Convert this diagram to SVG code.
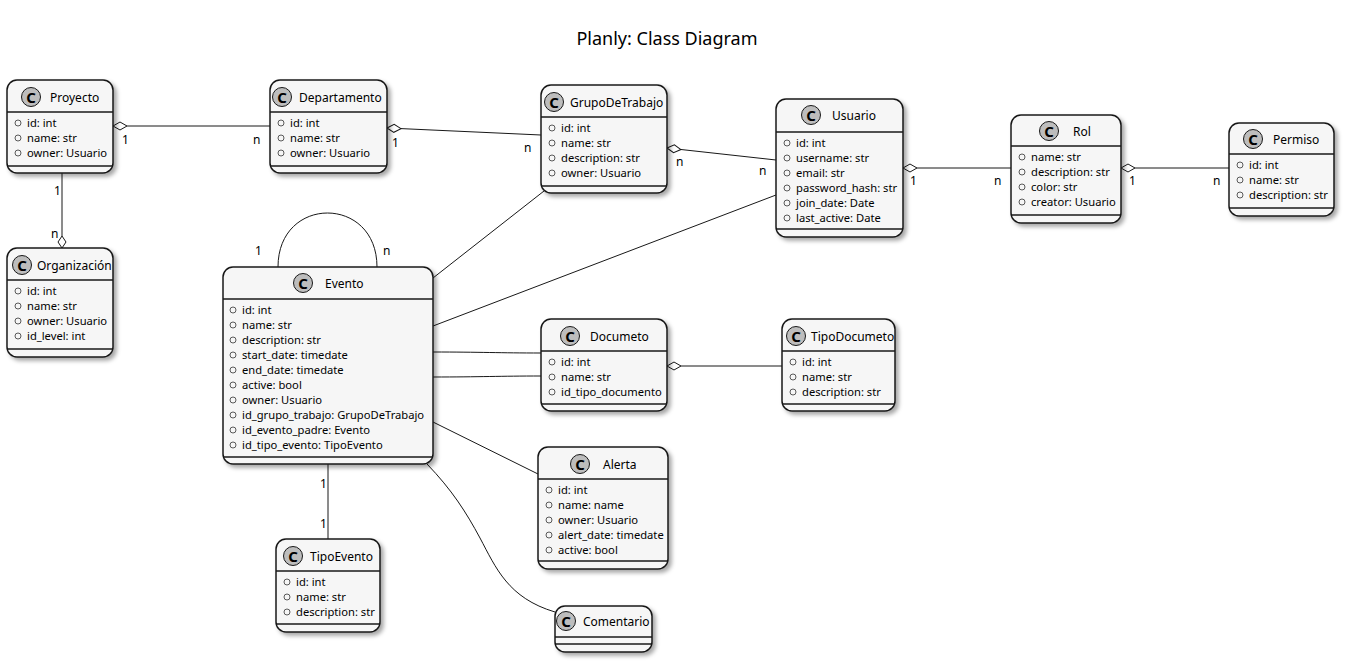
<svg xmlns="http://www.w3.org/2000/svg" width="1347" height="666" viewBox="0 0 1347 666">
<defs>
<filter id="sh" x="-10%" y="-10%" width="130%" height="130%">
<feDropShadow dx="3" dy="3" stdDeviation="2" flood-color="#000" flood-opacity="0.35"/>
</filter>
<style>
.box{fill:#F6F6F6;stroke:#181818;stroke-width:1.5;filter:url(#sh)}
.div{stroke:#181818;stroke-width:1.5}
.ic{fill:#BDBDBD;stroke:#181818;stroke-width:1}
.cl{font-family:"Noto Sans","Open Sans",sans-serif;font-size:15px;font-weight:bold;fill:#000;text-anchor:middle}
.nm{font-family:"Noto Sans","Open Sans",sans-serif;font-size:12px;fill:#000}
.at{font-family:"Noto Sans","Open Sans",sans-serif;font-size:11.2px;fill:#000}
.vi{fill:none;stroke:#333;stroke-width:0.8}
.ln{fill:none;stroke:#181818;stroke-width:1}
.dm{fill:#fff;stroke:#181818;stroke-width:1}
.lb{font-family:"Noto Sans","Open Sans",sans-serif;font-size:12px;fill:#000}
.ti{font-family:"Noto Sans","Open Sans",sans-serif;font-size:18px;fill:#000;text-anchor:middle}
</style>
</defs>
<rect width="1347" height="666" fill="#fff"/>
<text class="ti" x="667" y="45">Planly: Class Diagram</text>

<g id="connectors">
<path class="ln" d="M127,126 L270,126"/>
<polygon class="dm" points="113,126 120,122 127,126 120,130"/>
<text class="lb" x="122" y="144">1</text>
<text class="lb" x="253" y="144">n</text>
<path class="ln" d="M62,173 L62,236"/>
<polygon class="dm" points="62,248 58,242 62,236 66,242"/>
<text class="lb" x="54" y="195">1</text>
<text class="lb" x="51" y="238">n</text>
<path class="ln" d="M401,128.6 L541,135"/>
<polygon class="dm" points="387,128 394,124 401,128 394,132" transform="rotate(2.6 387 128)"/>
<text class="lb" x="392" y="147">1</text>
<text class="lb" x="524" y="152">n</text>
<path class="ln" d="M681,149.5 L776,160"/>
<polygon class="dm" points="667,148 674,144 681,148 674,152" transform="rotate(6.3 667 148)"/>
<text class="lb" x="676" y="166">n</text>
<text class="lb" x="759" y="175">n</text>
<path class="ln" d="M917,168 L1011,168"/>
<polygon class="dm" points="903,168 910,164 917,168 910,172"/>
<text class="lb" x="910" y="185">1</text>
<text class="lb" x="994" y="185">n</text>
<path class="ln" d="M1135,168 L1229,168"/>
<polygon class="dm" points="1121,168 1128,164 1135,168 1128,172"/>
<text class="lb" x="1129" y="185">1</text>
<text class="lb" x="1213" y="185">n</text>
<path class="ln" d="M278,267 C278,195 377,195 377,267"/>
<text class="lb" x="255" y="255">1</text>
<text class="lb" x="383" y="255">n</text>
<path class="ln" d="M433,278 L544,191"/>
<path class="ln" d="M433,326 L776,195"/>
<path class="ln" d="M433,352 C480,352 500,353 541,353"/>
<path class="ln" d="M433,377 C480,377 500,376 541,376"/>
<path class="ln" d="M681,366 L782,366"/>
<polygon class="dm" points="667,366 674,362 681,366 674,370"/>
<path class="ln" d="M433,422 L538,474"/>
<path class="ln" d="M328,464 L328,539"/>
<text class="lb" x="320" y="488">1</text>
<text class="lb" x="320" y="528">1</text>
<path class="ln" d="M427,464 C452,490 466,512 480,538 C496,568 508,598 555,612"/>
</g>

<g id="Proyecto">
<rect class="box" x="7" y="80" width="106" height="93" rx="10"/>
<line class="div" x1="7" y1="112" x2="113" y2="112"/>
<line class="div" x1="7" y1="166" x2="113" y2="166"/>
<circle class="ic" cx="31" cy="97" r="9.5"/><text class="cl" x="31" y="102.5">C</text>
<text class="nm" x="50" y="101.5">Proyecto</text>
<circle class="vi" cx="18" cy="123" r="3"/><text class="at" x="27" y="127">id: int</text>
<circle class="vi" cx="18" cy="138" r="3"/><text class="at" x="27" y="142">name: str</text>
<circle class="vi" cx="18" cy="153" r="3"/><text class="at" x="27" y="157">owner: Usuario</text>
</g>

<g id="Departamento">
<rect class="box" x="270" y="80" width="117" height="93" rx="10"/>
<line class="div" x1="270" y1="112" x2="387" y2="112"/>
<line class="div" x1="270" y1="166" x2="387" y2="166"/>
<circle class="ic" cx="282" cy="97" r="9.5"/><text class="cl" x="282" y="102.5">C</text>
<text class="nm" x="299" y="101.5">Departamento</text>
<circle class="vi" cx="281" cy="123" r="3"/><text class="at" x="290" y="127">id: int</text>
<circle class="vi" cx="281" cy="138" r="3"/><text class="at" x="290" y="142">name: str</text>
<circle class="vi" cx="281" cy="153" r="3"/><text class="at" x="290" y="157">owner: Usuario</text>
</g>

<g id="Organizacion">
<rect class="box" x="7" y="248" width="106" height="109" rx="10"/>
<line class="div" x1="7" y1="280" x2="113" y2="280"/>
<line class="div" x1="7" y1="349" x2="113" y2="349"/>
<circle class="ic" cx="22" cy="265" r="9.5"/><text class="cl" x="22" y="270.5">C</text>
<text class="nm" x="37" y="269.5">Organización</text>
<circle class="vi" cx="18" cy="291" r="3"/><text class="at" x="27" y="295">id: int</text>
<circle class="vi" cx="18" cy="306" r="3"/><text class="at" x="27" y="310">name: str</text>
<circle class="vi" cx="18" cy="321" r="3"/><text class="at" x="27" y="325">owner: Usuario</text>
<circle class="vi" cx="18" cy="336" r="3"/><text class="at" x="27" y="340">id_level: int</text>
</g>

<g id="Evento">
<rect class="box" x="223" y="267" width="210" height="197" rx="10"/>
<line class="div" x1="223" y1="299" x2="433" y2="299"/>
<line class="div" x1="223" y1="457" x2="433" y2="457"/>
<circle class="ic" cx="303" cy="283" r="9.5"/><text class="cl" x="303" y="288.5">C</text>
<text class="nm" x="325" y="287.5">Evento</text>
<circle class="vi" cx="233" cy="310" r="3"/><text class="at" x="242" y="314">id: int</text>
<circle class="vi" cx="233" cy="325" r="3"/><text class="at" x="242" y="329">name: str</text>
<circle class="vi" cx="233" cy="340" r="3"/><text class="at" x="242" y="344">description: str</text>
<circle class="vi" cx="233" cy="355" r="3"/><text class="at" x="242" y="359">start_date: timedate</text>
<circle class="vi" cx="233" cy="370" r="3"/><text class="at" x="242" y="374">end_date: timedate</text>
<circle class="vi" cx="233" cy="385" r="3"/><text class="at" x="242" y="389">active: bool</text>
<circle class="vi" cx="233" cy="400" r="3"/><text class="at" x="242" y="404">owner: Usuario</text>
<circle class="vi" cx="233" cy="415" r="3"/><text class="at" x="242" y="419">id_grupo_trabajo: GrupoDeTrabajo</text>
<circle class="vi" cx="233" cy="430" r="3"/><text class="at" x="242" y="434">id_evento_padre: Evento</text>
<circle class="vi" cx="233" cy="445" r="3"/><text class="at" x="242" y="449">id_tipo_evento: TipoEvento</text>
</g>

<g id="GrupoDeTrabajo">
<rect class="box" x="541" y="85" width="126" height="108" rx="10"/>
<line class="div" x1="541" y1="117" x2="667" y2="117"/>
<line class="div" x1="541" y1="186" x2="667" y2="186"/>
<circle class="ic" cx="554" cy="102" r="9.5"/><text class="cl" x="554" y="107.5">C</text>
<text class="nm" x="570" y="106.5">GrupoDeTrabajo</text>
<circle class="vi" cx="552" cy="128" r="3"/><text class="at" x="561" y="132">id: int</text>
<circle class="vi" cx="552" cy="143" r="3"/><text class="at" x="561" y="147">name: str</text>
<circle class="vi" cx="552" cy="158" r="3"/><text class="at" x="561" y="162">description: str</text>
<circle class="vi" cx="552" cy="173" r="3"/><text class="at" x="561" y="177">owner: Usuario</text>
</g>

<g id="Usuario">
<rect class="box" x="776" y="99" width="127" height="138" rx="10"/>
<line class="div" x1="776" y1="132" x2="903" y2="132"/>
<line class="div" x1="776" y1="229" x2="903" y2="229"/>
<circle class="ic" cx="811" cy="115" r="9.5"/><text class="cl" x="811" y="120.5">C</text>
<text class="nm" x="832" y="119.5">Usuario</text>
<circle class="vi" cx="787" cy="143" r="3"/><text class="at" x="796" y="147">id: int</text>
<circle class="vi" cx="787" cy="158" r="3"/><text class="at" x="796" y="162">username: str</text>
<circle class="vi" cx="787" cy="173" r="3"/><text class="at" x="796" y="177">email: str</text>
<circle class="vi" cx="787" cy="188" r="3"/><text class="at" x="796" y="192">password_hash: str</text>
<circle class="vi" cx="787" cy="203" r="3"/><text class="at" x="796" y="207">join_date: Date</text>
<circle class="vi" cx="787" cy="218" r="3"/><text class="at" x="796" y="222">last_active: Date</text>
</g>

<g id="Rol">
<rect class="box" x="1011" y="115" width="110" height="108" rx="10"/>
<line class="div" x1="1011" y1="146" x2="1121" y2="146"/>
<line class="div" x1="1011" y1="215" x2="1121" y2="215"/>
<circle class="ic" cx="1049" cy="131" r="9.5"/><text class="cl" x="1049" y="136.5">C</text>
<text class="nm" x="1073" y="135.5">Rol</text>
<circle class="vi" cx="1022" cy="157" r="3"/><text class="at" x="1031" y="161">name: str</text>
<circle class="vi" cx="1022" cy="172" r="3"/><text class="at" x="1031" y="176">description: str</text>
<circle class="vi" cx="1022" cy="187" r="3"/><text class="at" x="1031" y="191">color: str</text>
<circle class="vi" cx="1022" cy="202" r="3"/><text class="at" x="1031" y="206">creator: Usuario</text>
</g>

<g id="Permiso">
<rect class="box" x="1229" y="123" width="105" height="93" rx="10"/>
<line class="div" x1="1229" y1="154" x2="1334" y2="154"/>
<line class="div" x1="1229" y1="208" x2="1334" y2="208"/>
<circle class="ic" cx="1253" cy="139" r="9.5"/><text class="cl" x="1253" y="144.5">C</text>
<text class="nm" x="1273" y="143.5">Permiso</text>
<circle class="vi" cx="1240" cy="165" r="3"/><text class="at" x="1249" y="169">id: int</text>
<circle class="vi" cx="1240" cy="180" r="3"/><text class="at" x="1249" y="184">name: str</text>
<circle class="vi" cx="1240" cy="195" r="3"/><text class="at" x="1249" y="199">description: str</text>
</g>

<g id="Documeto">
<rect class="box" x="541" y="319" width="126" height="92" rx="10"/>
<line class="div" x1="541" y1="351" x2="667" y2="351"/>
<line class="div" x1="541" y1="404" x2="667" y2="404"/>
<circle class="ic" cx="570" cy="336" r="9.5"/><text class="cl" x="570" y="341.5">C</text>
<text class="nm" x="590" y="340.5">Documeto</text>
<circle class="vi" cx="552" cy="362" r="3"/><text class="at" x="561" y="366">id: int</text>
<circle class="vi" cx="552" cy="377" r="3"/><text class="at" x="561" y="381">name: str</text>
<circle class="vi" cx="552" cy="392" r="3"/><text class="at" x="561" y="396">id_tipo_documento</text>
</g>

<g id="TipoDocumeto">
<rect class="box" x="782" y="319" width="113" height="92" rx="10"/>
<line class="div" x1="782" y1="351" x2="895" y2="351"/>
<line class="div" x1="782" y1="404" x2="895" y2="404"/>
<circle class="ic" cx="796" cy="336" r="9.5"/><text class="cl" x="796" y="341.5">C</text>
<text class="nm" x="811" y="340.5">TipoDocumeto</text>
<circle class="vi" cx="793" cy="362" r="3"/><text class="at" x="802" y="366">id: int</text>
<circle class="vi" cx="793" cy="377" r="3"/><text class="at" x="802" y="381">name: str</text>
<circle class="vi" cx="793" cy="392" r="3"/><text class="at" x="802" y="396">description: str</text>
</g>

<g id="Alerta">
<rect class="box" x="538" y="447" width="130" height="122" rx="10"/>
<line class="div" x1="538" y1="479" x2="668" y2="479"/>
<line class="div" x1="538" y1="561" x2="668" y2="561"/>
<circle class="ic" cx="580" cy="464" r="9.5"/><text class="cl" x="580" y="469.5">C</text>
<text class="nm" x="603" y="468.5">Alerta</text>
<circle class="vi" cx="549" cy="490" r="3"/><text class="at" x="558" y="494">id: int</text>
<circle class="vi" cx="549" cy="505" r="3"/><text class="at" x="558" y="509">name: name</text>
<circle class="vi" cx="549" cy="520" r="3"/><text class="at" x="558" y="524">owner: Usuario</text>
<circle class="vi" cx="549" cy="535" r="3"/><text class="at" x="558" y="539">alert_date: timedate</text>
<circle class="vi" cx="549" cy="550" r="3"/><text class="at" x="558" y="554">active: bool</text>
</g>

<g id="TipoEvento">
<rect class="box" x="276" y="539" width="104" height="93" rx="10"/>
<line class="div" x1="276" y1="571" x2="380" y2="571"/>
<line class="div" x1="276" y1="624" x2="380" y2="624"/>
<circle class="ic" cx="293" cy="556" r="9.5"/><text class="cl" x="293" y="561.5">C</text>
<text class="nm" x="310" y="560.5">TipoEvento</text>
<circle class="vi" cx="287" cy="582" r="3"/><text class="at" x="296" y="586">id: int</text>
<circle class="vi" cx="287" cy="597" r="3"/><text class="at" x="296" y="601">name: str</text>
<circle class="vi" cx="287" cy="612" r="3"/><text class="at" x="296" y="616">description: str</text>
</g>

<g id="Comentario">
<rect class="box" x="555" y="606" width="97" height="46" rx="10"/>
<line class="div" x1="555" y1="637" x2="652" y2="637"/>
<line class="div" x1="555" y1="644" x2="652" y2="644"/>
<circle class="ic" cx="566" cy="621" r="9.5"/><text class="cl" x="566" y="626.5">C</text>
<text class="nm" x="583" y="625.5">Comentario</text>
</g>
</svg>
